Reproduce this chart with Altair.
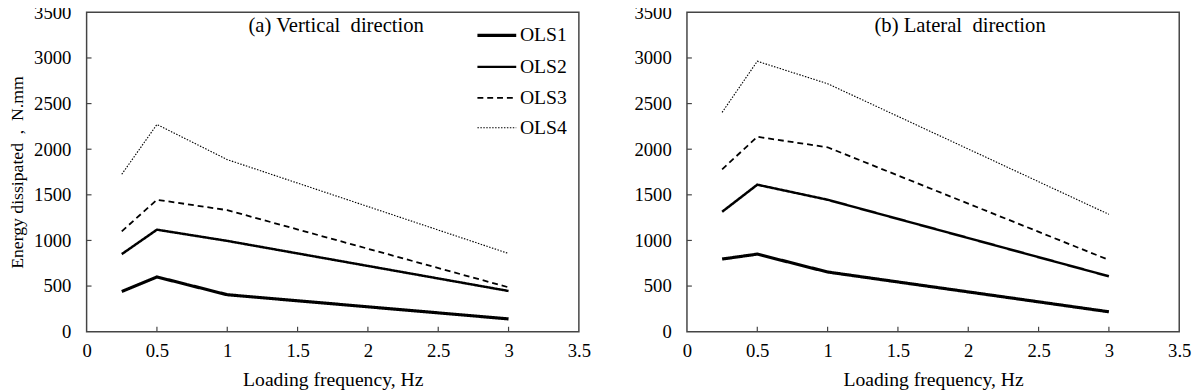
import altair as alt
import pandas as pd

# ---- data ----
freq = [0.25, 0.5, 1, 3]
series = ["OLS1", "OLS2", "OLS3", "OLS4"]

vertical = {
    "OLS1": [440, 600, 405, 140],
    "OLS2": [850, 1118, 995, 446],
    "OLS3": [1100, 1446, 1332, 486],
    "OLS4": [1725, 2271, 1886, 857],
}
lateral = {
    "OLS1": [796, 850, 654, 218],
    "OLS2": [1314, 1611, 1446, 607],
    "OLS3": [1779, 2136, 2021, 786],
    "OLS4": [2404, 2964, 2718, 1286],
}

x_tick_values = [0, 0.5, 1, 1.5, 2, 2.5, 3, 3.5]
y_tick_values = [0, 500, 1000, 1500, 2000, 2500, 3000, 3500]
inner_x_ticks = [0.5, 1, 1.5, 2, 2.5, 3]
inner_y_ticks = [500, 1000, 1500, 2000, 2500, 3000]

FONT = "Liberation Serif"
FRAME = "#444444"
W, H = 501, 325


def to_long(d):
    rows = []
    for s in series:
        for f, v in zip(freq, d[s]):
            rows.append({"freq": f, "energy": v, "series": s})
    return pd.DataFrame(rows)


def panel(d, title, title_x, show_legend, show_ytitle):
    df = to_long(d)
    if show_legend:
        leg = alt.Legend(
            orient="none", legendX=396, legendY=2, title=None,
            symbolType="stroke", symbolSize=1560, symbolStrokeColor="black",
            labelFont=FONT, labelFontSize=20, labelColor="black",
            labelOffset=2, rowPadding=-8, padding=0,
        )
    else:
        leg = None
    x = alt.X(
        "freq:Q",
        scale=alt.Scale(domain=[0, 3.5], nice=False),
        axis=alt.Axis(values=x_tick_values, title="Loading frequency, Hz",
                      grid=False, ticks=False, domain=False, labelPadding=10,
                      titlePadding=10, labelFlush=False, format="~g"),
    )
    y = alt.Y(
        "energy:Q",
        scale=alt.Scale(domain=[0, 3500], nice=False),
        axis=alt.Axis(values=y_tick_values,
                      title="Energy dissipated\u00a0 ,\u00a0 N.mm" if show_ytitle else None,
                      titleFontSize=18,
                      grid=False, ticks=False, domain=False, labelPadding=16,
                      titlePadding=7, labelFlush=False, format="d"),
    )
    lines = alt.Chart(df).mark_line(color="black", strokeCap="butt").encode(
        x=x,
        y=y,
        strokeDash=alt.StrokeDash(
            "series:N",
            scale=alt.Scale(domain=series, range=[[1, 0], [1, 0], [6, 4], [1.5, 1.5]]),
            legend=leg,
        ),
        strokeWidth=alt.StrokeWidth(
            "series:N",
            scale=alt.Scale(domain=series, range=[3.2, 1.15, 1.4, 1.1]),
            legend=leg,
        ),
    )
    xt = alt.Chart(pd.DataFrame({"t": inner_x_ticks})).mark_rule(
        color=FRAME, strokeWidth=1.2
    ).encode(x="t:Q", y=alt.value(H), y2=alt.value(H - 5))
    yt = alt.Chart(pd.DataFrame({"t": inner_y_ticks})).mark_rule(
        color=FRAME, strokeWidth=1.2
    ).encode(y="t:Q", x=alt.value(0), x2=alt.value(5))
    ttl = alt.Chart(pd.DataFrame({"t": [title]})).mark_text(
        font=FONT, fontSize=21, color="black", baseline="middle", align="center"
    ).encode(text="t:N", x=alt.value(title_x), y=alt.value(14))
    return alt.layer(lines, xt, yt, ttl).properties(width=W, height=H)


left = panel(vertical, "(a) Vertical\u00a0 direction", 254, True, True)
right = panel(lateral, "(b) Lateral\u00a0 direction", 278, False, False)

chart = (
    alt.hconcat(left, right, spacing=42)
    .resolve_legend(strokeDash="independent", strokeWidth="independent")
    .properties(padding={"left": 0, "top": -9, "right": 0, "bottom": 0})
    .configure(font=FONT)
    .configure_view(stroke=FRAME, strokeWidth=1.5)
    .configure_text(font=FONT)
    .configure_legend(labelFont=FONT)
    .configure_axis(
        labelFont=FONT, labelFontSize=19, labelColor="black",
        titleFont=FONT, titleFontSize=20, titleFontWeight="normal", titleColor="black",
    )
)

chart.save("out.html", embed_options={"renderer": "svg", "actions": False})
